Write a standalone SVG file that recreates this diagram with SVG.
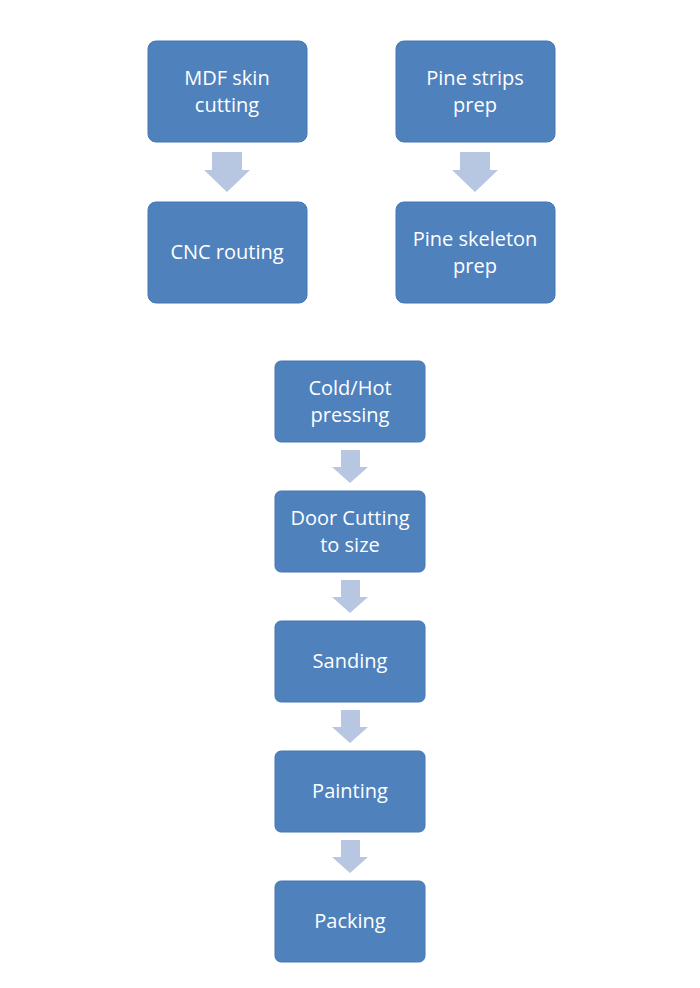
<svg xmlns="http://www.w3.org/2000/svg" width="700" height="988" viewBox="0 0 700 988">
<style>
.box{fill:#4f81bd;stroke:#4677b3;stroke-width:1}
.t{font-family:"Open Sans","Liberation Sans",sans-serif;font-size:20px;fill:#fff;text-anchor:middle}
.ar{fill:#b7c7e2}
</style>
<rect width="700" height="988" fill="#fff"/>
<g id="connectors">
<path class="ar" d="M212,152H242V170H250L227,192L204,170H212Z"/>
<path class="ar" d="M460,152H490V170H498L475,192L452,170H460Z"/>
<path class="ar" d="M341,450H360V467H368L350,483L332,467H341Z"/>
<path class="ar" d="M341,580H360V597H368L350,613L332,597H341Z"/>
<path class="ar" d="M341,710H360V727H368L350,743L332,727H341Z"/>
<path class="ar" d="M341,840H360V857H368L350,873L332,857H341Z"/>
</g>
<g id="mdf"><rect class="box" x="148" y="41" width="159" height="101" rx="8"/><text class="t" x="227" y="85">MDF skin</text><text class="t" x="227" y="112">cutting</text></g>
<g id="cnc"><rect class="box" x="148" y="202" width="159" height="101" rx="8"/><text class="t" x="227" y="259">CNC routing</text></g>
<g id="pinestrips"><rect class="box" x="396" y="41" width="159" height="101" rx="8"/><text class="t" x="475" y="85">Pine strips</text><text class="t" x="475" y="112">prep</text></g>
<g id="pineskel"><rect class="box" x="396" y="202" width="159" height="101" rx="8"/><text class="t" x="475" y="246">Pine skeleton</text><text class="t" x="475" y="273">prep</text></g>
<g id="press"><rect class="box" x="275" y="361" width="150" height="81" rx="6"/><text class="t" x="350" y="395">Cold/Hot</text><text class="t" x="350" y="422">pressing</text></g>
<g id="cut"><rect class="box" x="275" y="491" width="150" height="81" rx="6"/><text class="t" x="350" y="525">Door Cutting</text><text class="t" x="350" y="552">to size</text></g>
<g id="sand"><rect class="box" x="275" y="621" width="150" height="81" rx="6"/><text class="t" x="350" y="668">Sanding</text></g>
<g id="paint"><rect class="box" x="275" y="751" width="150" height="81" rx="6"/><text class="t" x="350" y="798">Painting</text></g>
<g id="pack"><rect class="box" x="275" y="881" width="150" height="81" rx="6"/><text class="t" x="350" y="928">Packing</text></g>
</svg>
